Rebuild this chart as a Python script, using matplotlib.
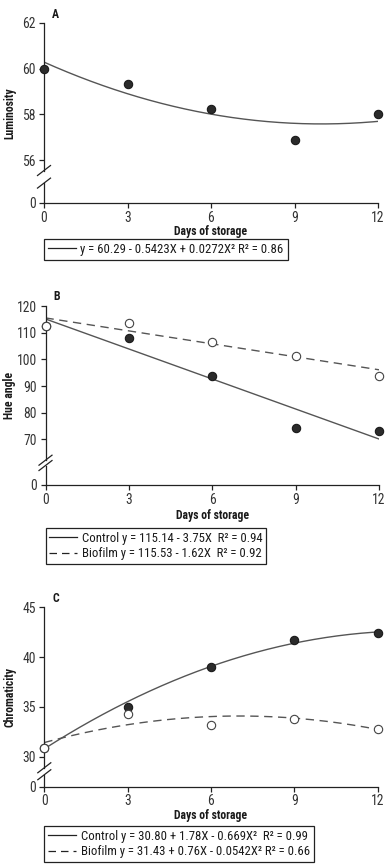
import numpy as np
import matplotlib
matplotlib.use("Agg")
import matplotlib.pyplot as plt
from matplotlib.lines import Line2D

plt.rcParams['font.family'] = ['Roboto Condensed', 'Archivo Narrow', 'DejaVu Sans']

# ---------------- data ----------------
days = [0, 3, 6, 9, 12]
xticks_lab = ['0', '3', '6', '9', '12']

lum = [60.0, 59.33, 58.22, 56.9, 58.0]
lum_coef = [60.29, -0.5423, 0.0272]

hue_control = [112.6, 107.9, 93.85, 74.4, 73.2]
hue_biofilm = [112.6, 113.5, 106.4, 101.4, 93.9]
hue_control_coef = [115.14, -3.75]
hue_biofilm_coef = [115.53, -1.62]

chroma_control = [30.93, 35.0, 39.0, 41.7, 42.45]
chroma_biofilm = [30.93, 34.27, 33.17, 33.83, 32.83]
chroma_control_coef = [30.80, 1.78, -0.0669]
chroma_biofilm_coef = [31.43, 0.76, -0.0542]

yticksA = [56, 58, 60, 62]
yticksB = [70, 80, 90, 100, 110, 120]
yticksC = [30, 35, 40, 45]

W, H = 392, 867
fig = plt.figure(figsize=(W / 100, H / 100), dpi=100)

TXT = '#1a1a1a'
TICK = '#333333'
LINEC = '#555555'
LBL = 8.5


def poly(coef, x):
    return sum(c * x ** i for i, c in enumerate(coef))


def make_ax(left, right, top_px, bottom_px, ylim, yticks, brk, ylabel, letter, xlab_y):
    ax = fig.add_axes([left / W, 1 - bottom_px / H, (right - left) / W, (bottom_px - top_px) / H])
    ax.set_xlim(0, 12)
    ax.set_ylim(*ylim)
    ax.spines['top'].set_visible(False)
    ax.spines['right'].set_visible(False)
    ax.spines['left'].set_bounds(brk[1], ylim[1])
    for s in ['left', 'bottom']:
        ax.spines[s].set_linewidth(0.9)
        ax.spines[s].set_color('#222222')
    ax.plot([0, 0], [ylim[0], brk[0]], color='#222222', lw=0.9, clip_on=False, zorder=3)
    # break marks
    ppu = (bottom_px - top_px) / (ylim[1] - ylim[0])
    dxa = 6.5 / (right - left)
    dy = 5.0 / ppu
    for yb in brk:
        ax.plot([-dxa, dxa], [yb - dy, yb + dy], color='#222222', lw=0.9, clip_on=False,
                transform=ax.get_yaxis_transform(), zorder=3)
    ax.set_yticks([ylim[0]] + yticks)
    ax.set_yticklabels(['0'] + [str(t) for t in yticks])
    ax.set_xticks(days)
    ax.set_xticklabels(xticks_lab)
    ax.tick_params(axis='both', length=3.5, width=0.9, color='#222222', labelsize=9.8,
                   labelcolor=TICK, pad=2.5)
    ax.tick_params(axis='x', pad=2)
    lab = ax.set_ylabel(ylabel, fontsize=LBL, fontweight='bold', color=TXT)
    lab.set_va('center')
    ax.yaxis.set_label_coords(-(left - 10) / (right - left), 0.5)
    ax.text(8 / (right - left), (bottom_px - (top_px - 9)) / (bottom_px - top_px), letter,
            transform=ax.transAxes, fontsize=LBL, fontweight='bold', color=TXT,
            ha='left', va='center')
    ax.text(0.5, -(xlab_y - bottom_px) / (bottom_px - top_px), 'Days of storage',
            transform=ax.transAxes, fontsize=LBL, fontweight='bold', color=TXT,
            ha='center', va='center')
    return ax


def add_legend(ax, handles, labels, x_px, y_px):
    leg = fig.legend(handles, labels, loc='upper left',
                     bbox_to_anchor=(x_px / W, 1 - y_px / H), bbox_transform=fig.transFigure,
                     borderaxespad=0, fancybox=False, framealpha=1, edgecolor='#222222',
                     fontsize=9.2, handlelength=2.2, handletextpad=0.35, borderpad=0.3,
                     labelspacing=0.2, labelcolor=TXT)
    leg.get_frame().set_linewidth(0.9)
    return leg


xs = np.linspace(0, 12, 200)
mk_filled = dict(marker='o', ms=6, mfc='#2b2b2b', mec='#1a1a1a', mew=0.8, ls='none',
                 clip_on=False, zorder=5)
mk_open = dict(marker='o', ms=6, mfc='white', mec='#444444', mew=0.8, ls='none',
               clip_on=False, zorder=6)
dash = dict(color=LINEC, lw=1.0, dashes=(6, 4))
solid = dict(color=LINEC, lw=1.0)

# ---------------- Panel A ----------------
axA = make_ax(44, 378, 23, 203, (54.13, 62), yticksA, (55.0, 55.55), 'Luminosity', 'A', 231.5)
axA.plot(xs, poly(lum_coef, xs), **solid)
axA.plot(days, lum, **mk_filled)
add_legend(axA, [Line2D([], [], color='#222222', lw=0.9)],
           ['y = 60.29 - 0.5423X + 0.0272X² R² = 0.86'], 44, 239)

# ---------------- Panel B ----------------
axB = make_ax(45.5, 379, 306, 485, (52.9, 120), yticksB, (60.2, 62.2), 'Hue angle', 'B', 515.5)
axB.plot(xs, poly(hue_control_coef, xs), **solid)
axB.plot(xs, poly(hue_biofilm_coef, xs), **dash)
axB.plot(days, hue_control, **mk_filled)
axB.plot(days, hue_biofilm, **mk_open)
add_legend(axB, [Line2D([], [], color='#222222', lw=0.9),
                 Line2D([], [], color='#222222', lw=0.9, dashes=(6, 4))],
           ['Control y = 115.14 - 3.75X  R² = 0.94', 'Biofilm y = 115.53 - 1.62X  R² = 0.92'],
           45.5, 528)

# ---------------- Panel C ----------------
axC = make_ax(44.3, 377.7, 607.3, 786.7, (27, 45), yticksC, (28.2, 28.9), 'Chromaticity', 'C', 815.5)
axC.plot(xs, poly(chroma_control_coef, xs), **solid)
axC.plot(xs, poly(chroma_biofilm_coef, xs), **dash)
axC.plot(days, chroma_control, **mk_filled)
axC.plot(days, chroma_biofilm, **mk_open)
add_legend(axC, [Line2D([], [], color='#222222', lw=0.9),
                 Line2D([], [], color='#222222', lw=0.9, dashes=(6, 4))],
           ['Control y = 30.80 + 1.78X - 0.669X²  R² = 0.99',
            'Biofilm y = 31.43 + 0.76X - 0.0542X² R² = 0.66'],
           44.3, 826)

fig.savefig('out.png', dpi=100, facecolor='white')
